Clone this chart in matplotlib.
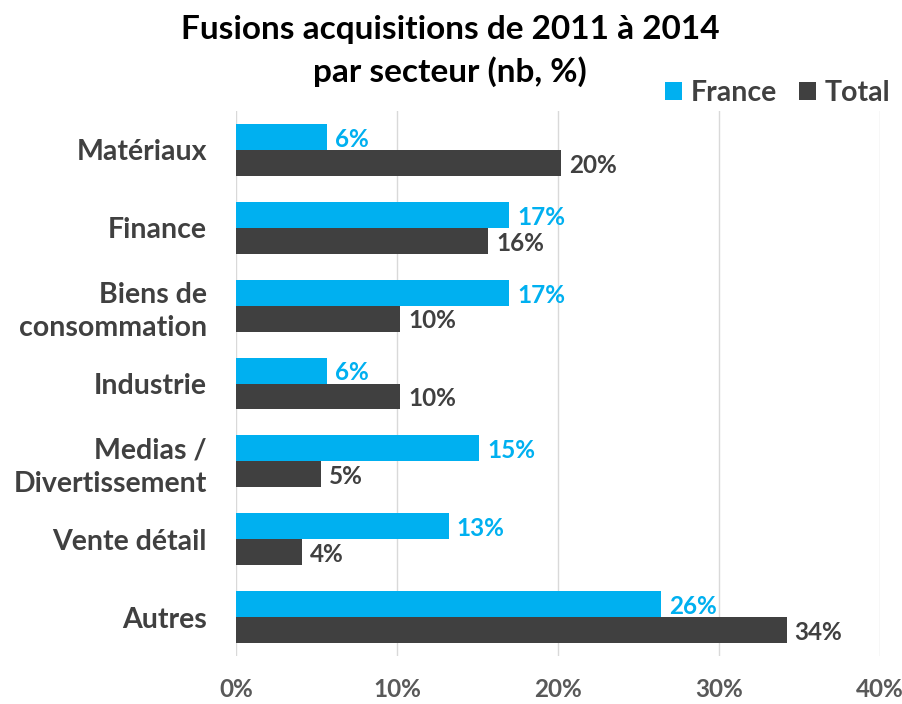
import matplotlib
matplotlib.use("Agg")
import matplotlib.pyplot as plt
import numpy as np

categories = ["Matériaux", "Finance", "Biens de\nconsommation", "Industrie",
              "Medias /\nDivertissement", "Vente détail", "Autres"]
france = [5.65, 16.96, 16.96, 5.65, 15.1, 13.2, 26.4]
total = [20.2, 15.65, 10.2, 10.2, 5.3, 4.1, 34.2]
xticks = [0, 10, 20, 30, 40]

C_FR = "#00B0F0"
C_TOT = "#404040"
C_TXT = "#404040"
FONT = "Lato"

plt.rcParams['font.family'] = [FONT, 'DejaVu Sans']
plt.rcParams['font.weight'] = 'bold'

fig = plt.figure(figsize=(9.03, 7.04), dpi=100)
ax = fig.add_axes([236/903, 1-656/704, (880-236)/903, (656-111)/704])

y = np.arange(len(categories))
h = 1/3
b1 = ax.barh(y - h/2, france, height=h, color=C_FR, label="France", zorder=3)
b2 = ax.barh(y + h/2, total, height=h, color=C_TOT, label="Total", zorder=3)

for yi, v in zip(y, france):
    ax.text(v + 0.5, yi - h/2 + 0.03, f"{round(v)}%", color=C_FR, fontsize=17.5,
            fontweight='bold', va='center', ha='left')
for yi, v in zip(y, total):
    ax.text(v + 0.5, yi + h/2 + 0.03, f"{round(v)}%", color=C_TOT, fontsize=17.5,
            fontweight='bold', va='center', ha='left')

ax.set_xlim(0, 40)
ax.set_ylim(len(categories) - 0.5, -0.5)
ax.set_xticks(xticks)
ax.set_xticklabels([f"{t}%" for t in xticks], fontsize=17.5, color="#595959", fontweight='bold')
ax.set_yticks(y)
ax.set_yticklabels(categories, fontsize=20.5, color=C_TXT, fontweight='bold', linespacing=1.35)
ax.tick_params(axis='both', length=0)
ax.tick_params(axis='x', pad=16)
ax.tick_params(axis='y', pad=21)
ax.grid(axis='x', color="#D9D9D9", linewidth=1, zorder=0)
for s in ax.spines.values():
    s.set_visible(False)

fig.text(450/903, 1-30/704, "Fusions acquisitions de 2011 à 2014", ha='center', va='center',
         fontsize=24, fontweight='bold', color='black')
fig.text(450/903, 1-72/704, "par secteur (nb, %)", ha='center', va='center',
         fontsize=24, fontweight='bold', color='black')

fig.legend(handles=[b1, b2], labels=["France", "Total"], loc='upper right',
           bbox_to_anchor=(902/903, 1-69/704), frameon=False, ncol=2,
           prop={'family': FONT, 'weight': 'bold', 'size': 20.5},
           labelcolor=C_TXT, handlelength=0.6, handleheight=0.6,
           handletextpad=0.3, columnspacing=0.8, borderaxespad=0)

fig.savefig("out.png", dpi=100)
